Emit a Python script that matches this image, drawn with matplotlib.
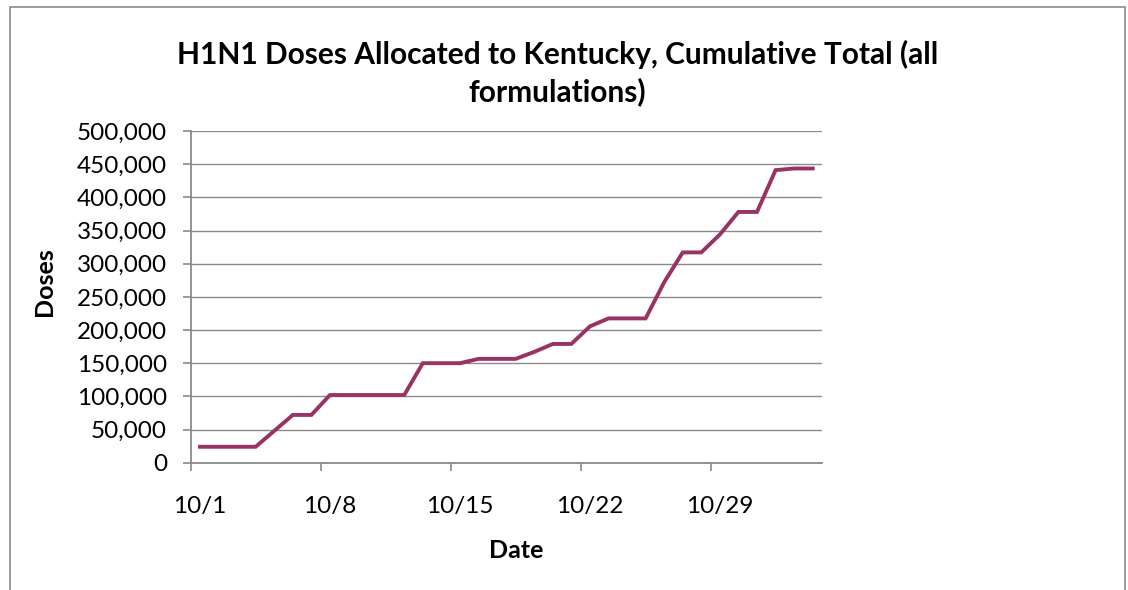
import numpy as np
import matplotlib
matplotlib.use('Agg')
import matplotlib.pyplot as plt
from matplotlib.patches import Rectangle
from matplotlib.ticker import FuncFormatter, FixedLocator

# cumulative doses per day, 10/1 .. 11/3
doses = [24000, 24000, 24000, 24000, 48000, 72000, 72000, 102000, 102000,
         102000, 102000, 102000, 150000, 150000, 150000, 156500, 156500,
         156500, 167000, 179000, 179000, 205500, 217500, 217500, 217500,
         272000, 317000, 317000, 344000, 378000, 378000, 441000, 443500,
         443500]
label_days = [0, 7, 14, 21, 28]
tick_labels = ['10/1', '10/8', '10/15', '10/22', '10/29']
title = 'H1N1 Doses Allocated to Kentucky, Cumulative Total (all\nformulations)'

plt.rcParams['font.family'] = ['Lato', 'DejaVu Sans']
grey = '#8a8a8a'

fig = plt.figure(figsize=(11.28, 5.90), dpi=100)
ax = fig.add_axes([190.7 / 1128, 1 - 462.7 / 590, (822 - 190.7) / 1128, (462.7 - 131) / 590])

x = np.arange(len(doses))
ax.plot(x, doses, color='#993366', lw=2.8, solid_joinstyle='miter')

ax.set_xlim(-0.5, len(doses) - 0.5)
ax.set_ylim(0, 500000)
ax.set_yticks(np.arange(0, 500001, 50000))
ax.yaxis.set_major_formatter(FuncFormatter(lambda v, p: f'{int(v):,}'))
ax.grid(axis='y', color=grey, lw=1.0)
ax.set_axisbelow(True)

# tick marks at week boundaries, labels centred on the day
ax.xaxis.set_major_locator(FixedLocator([d - 0.5 for d in label_days]))
ax.xaxis.set_minor_locator(FixedLocator(label_days))
ax.set_xticklabels([''] * len(label_days))
ax.set_xticklabels(tick_labels, minor=True)
ax.tick_params(axis='x', which='major', length=6, width=1.2, color=grey, direction='out')
ax.tick_params(axis='x', which='minor', length=0, pad=24, labelsize=17.5)
ax.tick_params(axis='y', length=6, width=1.2, color=grey, pad=11, labelsize=17.5)

for s in ['top', 'right']:
    ax.spines[s].set_visible(False)
for s in ['left', 'bottom']:
    ax.spines[s].set_color(grey)
    ax.spines[s].set_linewidth(1.3)

fig.text(0.494, 1 - 73 / 590, title, ha='center', va='center', fontsize=21.5,
         fontweight='bold', linespacing=1.35)
fig.text(45 / 1128, 1 - 282 / 590, 'Doses', rotation=90, ha='center', va='center',
         fontsize=18, fontweight='bold')
fig.text(516 / 1128, 1 - 550 / 590, 'Date', ha='center', va='center',
         fontsize=18, fontweight='bold')

fig.patches.append(Rectangle((10 / 1128, -0.1), (1125 - 10) / 1128, 1.1 - 7 / 590,
                             transform=fig.transFigure, fill=False,
                             edgecolor=grey, lw=1.2))

fig.savefig('out.png', dpi=100)
